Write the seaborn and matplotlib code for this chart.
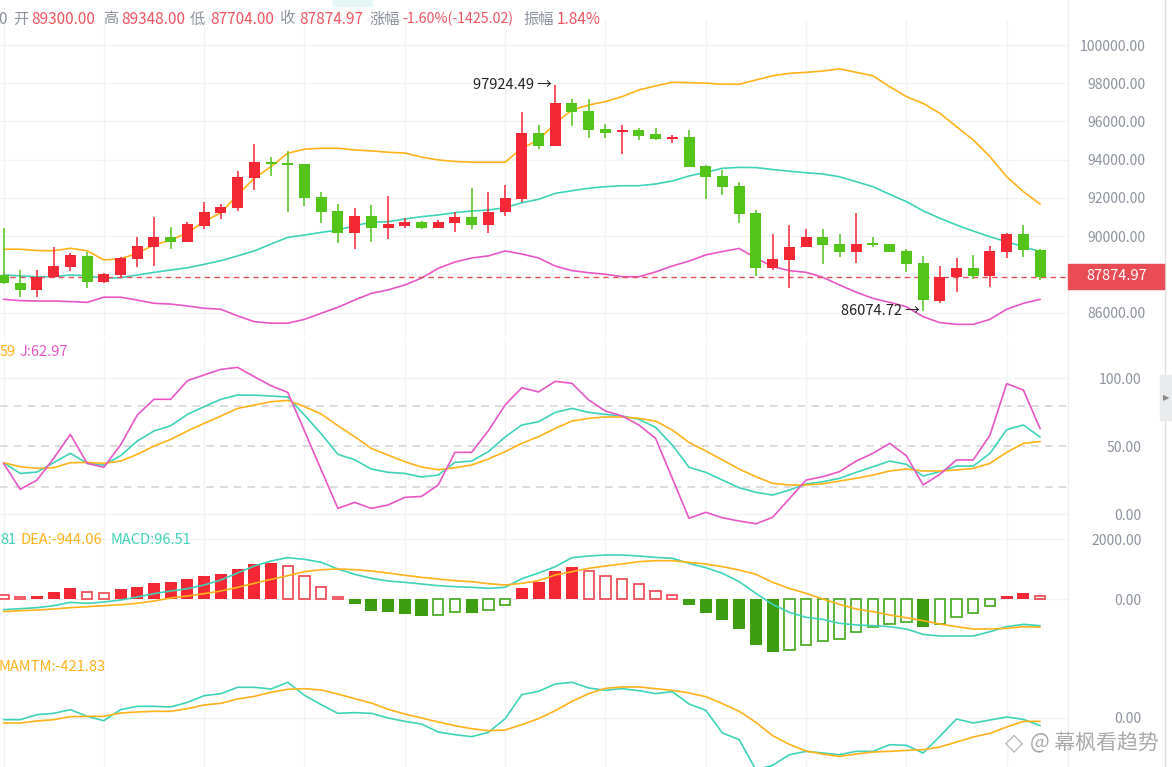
import numpy as np
import matplotlib
matplotlib.use('Agg')
import matplotlib.pyplot as plt
import seaborn as sns
from matplotlib.patches import Rectangle

sns.set_theme(style='white')
plt.rcParams['font.family'] = ['Noto Sans CJK SC', 'DejaVu Sans']
plt.rcParams['axes.unicode_minus'] = False

# --- candles (63 bars visible) ---
opens = [87970, 87540, 87190, 87850, 88400, 88970, 87620, 87970, 88810, 89450,
         89940, 89710, 90550, 91230, 91490, 93060, 93870, 93830, 93780, 92070,
         91330, 90180, 91070, 90440, 90550, 90760, 90440, 90710, 91020, 90590,
         91250, 91950, 95380, 94730, 96950, 96560, 95590, 95450, 95560, 95350,
         95100, 95200, 93690, 93160, 92640, 91200, 88350, 88760, 89420, 89940,
         89590, 89160, 89660, 89590, 89240, 88610, 86630, 87850, 88320, 87940,
         89190, 90120, 89300]
highs = [90430, 88230, 88230, 89420, 89100, 89190, 88090, 88930, 89940, 90990,
         90470, 90740, 91800, 91670, 93410, 94810, 94160, 94460, 93800, 92300,
         91680, 91490, 91630, 92100, 90940, 90800, 90850, 91280, 92540, 92330,
         92680, 96510, 95820, 97924.49, 97180, 97180, 95870, 95820, 95640, 95640,
         95290, 95560, 93720, 93460, 92850, 91370, 90120, 90590, 90360, 90360,
         90120, 91230, 89940, 89590, 89320, 88970, 88440, 88840, 89020, 89500,
         90180, 90590, 89348]
lows = [87500, 86840, 86840, 87800, 88200, 87280, 87570, 87850, 88370, 88460,
        89330, 89680, 90380, 90880, 91330, 92420, 93170, 91280, 91600, 90710,
        89660, 89330, 89710, 89850, 90410, 90380, 90440, 90240, 90380, 90150,
        91070, 91770, 94560, 94700, 95780, 95150, 95150, 94300, 95030, 95030,
        94890, 93640, 91930, 92160, 90710, 87920, 88230, 87280, 89420, 88530,
        88900, 88610, 89450, 89160, 88140, 86074.72, 86520, 87070, 87760, 87330,
        88840, 88900, 87704]
closes = [87550, 87190, 87880, 88460, 89020, 87620, 88010, 88840, 89490, 89940,
          89710, 90640, 91250, 91540, 93110, 93870, 93780, 93710, 92010, 91280,
          90180, 91070, 90440, 90620, 90760, 90440, 90760, 91020, 90590, 91280,
          91980, 95380, 94730, 96950, 96510, 95560, 95410, 95560, 95260, 95080,
          95200, 93640, 93110, 92590, 91160, 88350, 88790, 89450, 89940, 89540,
          89160, 89590, 89540, 89190, 88550, 86660, 87850, 88320, 87940, 89240,
          90120, 89299.99, 87874.97]

# --- bollinger bands ---
boll_up = [89320, 89320, 89250, 89240, 89370, 89240, 88760, 88810, 89110, 89540,
           89800, 90180, 90760, 91230, 92160, 93030, 93640, 94340, 94550, 94600,
           94600, 94510, 94460, 94390, 94350, 94140, 93990, 93910, 93870, 93870,
           93870, 94600, 95030, 95910, 96600, 96860, 97040, 97300, 97650, 97860,
           98050, 98030, 98000, 97950, 97950, 98170, 98390, 98520, 98570, 98640,
           98750, 98570, 98390, 97820, 97300, 96950, 96430, 95730, 95030, 94160,
           93110, 92330, 91680]
boll_mid = [87970, 87920, 87880, 87880, 87970, 87930, 87800, 87830, 87970, 88110,
            88230, 88350, 88530, 88720, 88970, 89230, 89590, 89940, 90060, 90200,
            90320, 90550, 90730, 90760, 90900, 91020, 91110, 91230, 91320, 91370,
            91490, 91750, 91930, 92240, 92380, 92510, 92590, 92640, 92640, 92730,
            92890, 93150, 93340, 93550, 93600, 93590, 93490, 93400, 93320, 93250,
            93110, 92850, 92590, 92190, 91810, 91330, 90940, 90590, 90270, 89970,
            89710, 89450, 89190]
boll_dn = [86700, 86630, 86610, 86610, 86580, 86540, 86810, 86810, 86660, 86490,
           86450, 86350, 86230, 86180, 85830, 85530, 85450, 85450, 85650, 85970,
           86280, 86660, 87010, 87190, 87450, 87810, 88320, 88650, 88860, 88970,
           89230, 89070, 88860, 88440, 88200, 88090, 88010, 87880, 87880, 88130,
           88440, 88700, 89020, 89200, 89360, 88860, 88410, 88200, 88110, 87850,
           87450, 87070, 86750, 86540, 86310, 85790, 85480, 85390, 85390, 85650,
           86180, 86490, 86700]

# --- KDJ ---
k_vals = [38.0, 30.1, 31.1, 38.0, 44.9, 37.5, 36.3, 43.1, 53.9, 61.3,
          65.2, 73.5, 79.2, 84.6, 87.7, 87.7, 87.0, 86.3, 73.0, 59.3,
          44.1, 40.2, 33.3, 30.9, 30.1, 27.5, 28.9, 38.2, 39.2, 46.1,
          56.9, 65.7, 68.1, 75.0, 77.9, 75.0, 73.5, 72.3, 69.9, 64.0,
          51.0, 34.6, 30.9, 25.2, 19.6, 16.2, 14.2, 17.9, 22.3, 24.0,
          26.5, 30.9, 35.0, 39.2, 36.8, 28.2, 31.4, 35.5, 35.5, 44.9,
          62.3, 65.7, 56.72]
d_vals = [38.0, 35.0, 33.8, 34.3, 38.0, 38.2, 37.5, 39.2, 44.1, 50.2,
          55.1, 61.3, 66.9, 72.3, 77.9, 80.4, 82.8, 83.8, 79.2, 73.8,
          65.2, 57.1, 48.5, 43.6, 38.7, 34.8, 32.8, 34.3, 36.3, 40.7,
          46.1, 52.2, 57.1, 63.2, 68.6, 70.6, 71.6, 71.6, 70.6, 68.6,
          62.0, 52.9, 46.6, 40.0, 33.3, 27.7, 22.8, 21.6, 21.6, 22.5,
          24.5, 26.5, 28.9, 31.9, 33.3, 31.9, 31.9, 32.6, 33.8, 37.5,
          45.6, 52.2, 53.59]
j_vals = [37.5, 18.4, 25.2, 41.2, 58.8, 37.5, 34.6, 51.0, 73.0, 84.6,
          84.6, 98.3, 102.5, 106.6, 108.1, 101.2, 94.6, 89.7, 61.3, 32.8,
          4.4, 8.8, 4.4, 6.9, 12.5, 13.2, 21.6, 45.6, 45.6, 61.5,
          80.4, 93.1, 90.0, 97.8, 96.3, 84.1, 76.0, 72.3, 65.7, 55.9,
          26.5, -2.9, 1.5, -2.5, -4.9, -6.9, -2.2, 11.5, 25.2, 27.7,
          31.4, 39.2, 44.9, 52.2, 43.1, 21.6, 29.4, 40.0, 40.0, 58.3,
          96.1, 91.4, 62.97]

# --- MACD ---
dif = [-357, -324, -290, -223, -112, -145, -101, -34, 67, 179,
       268, 346, 469, 637, 871, 1106, 1273, 1385, 1329, 1229,
       1005, 827, 693, 603, 559, 503, 447, 413, 391, 357,
       391, 681, 871, 1083, 1385, 1441, 1474, 1474, 1441, 1396,
       1363, 1195, 1050, 860, 581, 190, -179, -447, -614, -681,
       -815, -871, -894, -927, -1005, -1184, -1240, -1240, -1240, -1095,
       -927, -849, -895.81]
dea = [-424, -391, -369, -335, -290, -257, -223, -190, -145, -67,
       34, 101, 179, 268, 391, 525, 659, 782, 916, 983,
       1005, 983, 938, 871, 793, 726, 670, 614, 581, 514,
       469, 525, 614, 804, 916, 1028, 1106, 1173, 1251, 1285,
       1285, 1229, 1173, 1083, 972, 827, 559, 357, 190, 0,
       -179, -335, -424, -536, -626, -726, -838, -927, -1005, -1005,
       -983, -927, -944.06]
macd = [134, 67, 112, 246, 380, 223, 215, 324, 402, 536,
        570, 670, 782, 827, 1005, 1162, 1206, 1106, 771, 402,
        56, -168, -391, -447, -514, -559, -536, -447, -458, -369,
        -201, 380, 581, 949, 1072, 949, 771, 659, 491, 268,
        145, -212, -458, -715, -1005, -1541, -1765, -1709, -1541, -1407,
        -1340, -1117, -938, -827, -782, -927, -838, -615, -480, -235,
        112, 201, 96.51]
macd_before = 180  # bar just left of the window, taller than the first one

# --- MTM ---
mtm = [-211, -211, 422, 591, 1055, 211, -338, 1055, 1477, 1477,
       1393, 1983, 2827, 3081, 3882, 3882, 3671, 4515, 2870, 1688,
       591, 675, 591, 0, -422, -760, -1772, -2110, -2363, -1815,
       -84, 2954, 3376, 4304, 4515, 3798, 3503, 3714, 3460, 3081,
       3334, 1772, 971, -1899, -2743, -6541, -5992, -4642, -4220, -4431,
       -4642, -4220, -4220, -3376, -3460, -4431, -2321, -127, -633, -253,
       127, -169, -971]
mamtm = [-633, -633, -380, -211, 169, 211, 211, 633, 760, 844,
         844, 1182, 1646, 1857, 2405, 2743, 3249, 3629, 3714, 3545,
         3038, 2448, 1899, 1097, 506, 0, -506, -971, -1350, -1604,
         -1519, -844, -84, 928, 2110, 3081, 3756, 3925, 3925, 3714,
         3503, 3165, 2701, 1815, 844, -549, -2237, -3334, -4178, -4558,
         -4853, -4558, -4304, -4220, -4093, -4009, -3671, -3038, -2405, -1941,
         -1139, -422, -421.83]

price_ticks = [86000, 88000, 90000, 92000, 94000, 96000, 98000, 100000]

RED = '#f42735'
GREEN = '#52c41a'
ORANGE = '#ffb21a'
TEAL = '#3ed3b8'
PINK = '#e856c6'
GRID = '#f2f3f5'
TICK = '#8d939e'

W, H = 1172, 767
PLOT_R = 1068
X0, STEP = 3.5, 16.72

opens, highs, lows, closes = map(np.array, (opens, highs, lows, closes))
n = len(closes)
idx = np.arange(n)

fig = plt.figure(figsize=(W / 100, H / 100), dpi=100)
fig.patch.set_facecolor('white')


def panel(top, bottom, ylim, ticks, pad):
    ax = fig.add_axes([0, 1 - bottom / H, PLOT_R / W, (bottom - top) / H])
    ax.set_facecolor('none')
    for s in ax.spines.values():
        s.set_visible(False)
    ax.set_xlim(-X0 / STEP, (PLOT_R - X0) / STEP)
    ax.set_ylim(*ylim)
    ax.set_xticks(np.arange(0, n, 6))
    ax.tick_params(axis='x', length=0, labelbottom=False)
    ax.grid(axis='x', color=GRID, linewidth=1)
    ax.yaxis.tick_right()
    ax.set_yticks(ticks)
    ax.set_yticklabels([f'{t:.2f}' for t in ticks])
    ax.tick_params(axis='y', length=0, pad=pad, labelsize=10, labelcolor=TICK)
    plt.setp(ax.get_yticklabels(), ha='right')
    return ax


def line(ax, y, color, lw=1.2):
    sns.lineplot(x=idx, y=np.asarray(y, dtype=float), ax=ax, color=color,
                 linewidth=lw, legend=False, estimator=None, sort=False)
    ax.set_xlabel('')
    ax.set_ylabel('')


# ---------- price panel ----------
ax = panel(20, 337, (84728, 101308), price_ticks, 56)
ax.grid(axis='y', color=GRID, linewidth=1)
line(ax, boll_up, ORANGE)
line(ax, boll_mid, TEAL)
line(ax, boll_dn, PINK)
up = closes >= opens
col = np.where(up, RED, GREEN)
ax.vlines(idx, lows, highs, colors=col, linewidth=1.1, zorder=3)
ax.bar(idx, np.maximum(np.abs(closes - opens), 60), bottom=np.minimum(opens, closes),
       width=0.66, color=col, linewidth=0, zorder=4)
ax.axhline(closes[-1], color='#e8505b', linestyle=(0, (4, 3)), linewidth=1, zorder=2)
hi_i = int(np.argmax(highs))
lo_i = int(np.argmin(lows))
ax.text(hi_i - 0.2, highs[hi_i], f'{highs[hi_i]:.2f} →', ha='right', va='center',
        fontsize=10.5, color='#222222', zorder=5)
ax.text(lo_i - 0.2, lows[lo_i], f'{lows[lo_i]:.2f} →', ha='right', va='center',
        fontsize=10.5, color='#222222', zorder=5)

# last price tag
fig.patches.append(Rectangle((PLOT_R / W, 1 - 289 / H), 96 / W, 25 / H,
                             transform=fig.transFigure, color='#ea4c56', zorder=5))
fig.text(1117 / W, 1 - 276.5 / H, f'{closes[-1]:.2f}', color='white', fontsize=10.5,
         ha='center', va='center', zorder=6)

# ---------- KDJ ----------
ax2 = panel(340, 530, (-11.5, 128.2), [0, 50, 100], 53)
for v in (0, 100):
    ax2.axhline(v, color=GRID, linewidth=1)
for v in (20, 50, 80):
    ax2.axhline(v, color='#d2d2d2', linestyle=(0, (5, 4)), linewidth=1.1)
line(ax2, k_vals, TEAL)
line(ax2, d_vals, ORANGE)
line(ax2, j_vals, PINK)

# ---------- MACD ----------
ax3 = panel(530, 657, (-1943, 2312), [0, 2000], 53)
ax3.grid(axis='y', color=GRID, linewidth=1)
macd_a = np.array(macd, dtype=float)
prev = np.r_[macd_before, macd_a[:-1]]
pos = macd_a >= 0
hollow = np.where(pos, macd_a < prev, macd_a > prev)
fill_c = np.where(pos, RED, '#3c9e10')
edge_c = np.where(pos, '#f0505c', '#4fae2a')
f = ~hollow
ax3.bar(idx[f], macd_a[f], width=0.72, color=fill_c[f], linewidth=0, zorder=2)
ax3.bar(idx[hollow], macd_a[hollow], width=0.62, facecolor='white',
        edgecolor=edge_c[hollow], linewidth=1.3, zorder=2)
line(ax3, dif, TEAL)
line(ax3, dea, ORANGE)

# ---------- MTM ----------
ax4 = panel(657, 767, (-6199, 7717), [0], 53)
ax4.grid(axis='y', color=GRID, linewidth=1)
line(ax4, mtm, TEAL)
line(ax4, mamtm, ORANGE)

# ---------- header & legends ----------
GRAY = '#8d939e'
NUM = '#f0545f'
chg = closes[-1] - closes[-2]
header = [(-2, '0', GRAY, 11), (13, '开', GRAY, 11), (31, f'{opens[-1]:.2f}', NUM, 11),
          (103, '高', GRAY, 11), (121, f'{highs[-1]:.2f}', NUM, 11),
          (190, '低', GRAY, 11), (210, f'{lows[-1]:.2f}', NUM, 11),
          (279, '收', GRAY, 11), (299, f'{closes[-1]:.2f}', NUM, 11),
          (369, '涨幅', GRAY, 11),
          (402, f'{chg / closes[-2] * 100:.2f}%({chg:.2f})', NUM, 10.2),
          (523, '振幅', GRAY, 11),
          (557, f'{(highs[-1] - lows[-1]) / closes[-2] * 100:.2f}%', NUM, 11)]
for x, s, c, fs in header:
    fig.text(x / W, 1 - 19 / H, s, color=c, fontsize=fs, ha='left', va='center')
fig.patches.append(Rectangle((333 / W, 1 - 6 / H), 39 / W, 6 / H,
                             transform=fig.transFigure, color='#e4f6f6', zorder=1))

# legend rows start off the left edge; only their tails show
fig.text(0, 1 - 352 / H, f'{d_vals[-1]:.2f}'[-2:], color=ORANGE, fontsize=10.5,
         ha='left', va='center')
fig.text(20 / W, 1 - 352 / H, f'J:{j_vals[-1]:.2f}', color=PINK, fontsize=10.5,
         ha='left', va='center')
fig.text(0, 1 - 540 / H, f'{dif[-1]:.2f}'[-2:], color=TEAL, fontsize=10.5,
         ha='left', va='center')
fig.text(20 / W, 1 - 540 / H, f'DEA:{dea[-1]:.2f}', color=ORANGE, fontsize=10.5,
         ha='left', va='center')
fig.text(110 / W, 1 - 540 / H, f'MACD:{macd[-1]:.2f}', color=TEAL, fontsize=10.5,
         ha='left', va='center')
fig.text(-1 / W, 1 - 667 / H, f'MAMTM:{mamtm[-1]:.2f}', color=ORANGE, fontsize=10.5,
         ha='left', va='center')

# ---------- right side chrome ----------
fig.add_artist(plt.Line2D([PLOT_R / W] * 2, [0, 1], color='#f0f0f0', linewidth=1))
fig.add_artist(plt.Line2D([1165 / W] * 2, [0, 1], color='#dedede', linewidth=1))
fig.patches.append(Rectangle((1160 / W, 1 - 420 / H), 12 / W, 45 / H,
                             transform=fig.transFigure, color='#e9eaec', zorder=3))
fig.text(1166 / W, 1 - 398 / H, '▶', color='#8a8a8a', fontsize=6, ha='center',
         va='center', family='DejaVu Sans')

# watermark
fig.text(1014 / W, 1 - 743 / H, '◇', color='#b5b5b5', fontsize=17, ha='center',
         va='center', family='DejaVu Sans')
fig.text(1030 / W, 1 - 743 / H, '@ 幕枫看趋势', color='#a9a9a9', fontsize=15,
         ha='left', va='center')

fig.savefig('out.png', dpi=100)
